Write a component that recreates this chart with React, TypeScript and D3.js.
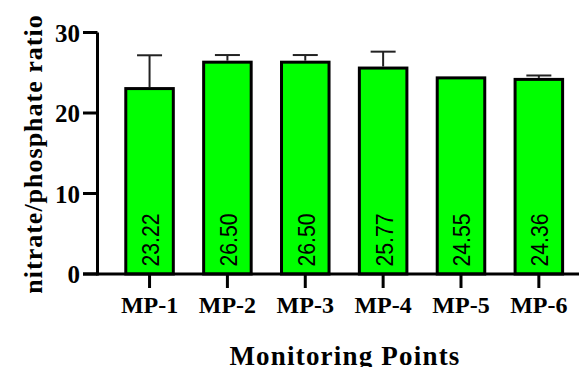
import React from "react";
import * as d3 from "d3";

const categories = ["MP-1", "MP-2", "MP-3", "MP-4", "MP-5", "MP-6"];
const means = [23.22, 26.5, 26.5, 25.77, 24.55, 24.36];
const errors = [3.95, 0.7, 0.7, 1.85, 0, 0.3];
const labels = ["23.22", "26.50", "26.50", "25.77", "24.55", "24.36"];
const yTicks = [0, 10, 20, 30];

const W = 579;
const H = 367;

export default function App() {
  const x = d3
    .scaleBand<string>()
    .domain(categories)
    .range([97.5, 590.9])
    .paddingInner(0.351)
    .paddingOuter(0.344);
  const y = d3.scaleLinear().domain([0, 30]).range([274, 32.5]);
  const bw = x.bandwidth();
  const serif = "'Liberation Serif', 'Times New Roman', serif";
  const sans = "'Liberation Sans', Arial, sans-serif";
  const axisX = 97.5;
  const y0 = y(0);

  return (
    <svg
      width={W}
      height={H}
      style={{ position: "absolute", left: 0, top: 0, background: "#fff" }}
    >
      {/* bars */}
      {categories.map((c, i) => {
        const bx = x(c)!;
        const top = y(means[i]);
        return (
          <rect
            key={c}
            x={bx + 1.5}
            y={top + 1.5}
            width={bw - 3}
            height={y0 - top - 1.5}
            fill="#00ff00"
            stroke="#000"
            strokeWidth={3}
          />
        );
      })}
      {/* error bars */}
      {categories.map((c, i) => {
        if (!errors[i]) return null;
        const cx = x(c)! + bw / 2;
        const top = y(means[i]);
        const et = y(means[i] + errors[i]);
        return (
          <g key={"e" + c} stroke="#222" strokeWidth={2}>
            <line x1={cx} x2={cx} y1={top} y2={et} />
            <line x1={cx - 12.5} x2={cx + 12.5} y1={et} y2={et} />
          </g>
        );
      })}
      {/* value labels */}
      {categories.map((c, i) => {
        const cx = x(c)! + bw / 2 + 9.5;
        const by = 266.5;
        return (
          <text
            key={"l" + c}
            transform={`translate(${cx},${by}) rotate(-90)`}
            fontFamily={sans}
            fontSize={23}
            textLength={53}
            lengthAdjust="spacingAndGlyphs"
            fill="#000"
          >
            {labels[i]}
          </text>
        );
      })}
      {/* y axis */}
      <line x1={axisX} x2={axisX} y1={y(30)} y2={y0 + 1.5} stroke="#000" strokeWidth={3} />
      {yTicks.map((t) => (
        <g key={"yt" + t}>
          <line x1={83} x2={axisX} y1={y(t)} y2={y(t)} stroke="#000" strokeWidth={3} />
          <text
            x={80}
            y={y(t) + 9}
            textAnchor="end"
            fontFamily={serif}
            fontWeight="bold"
            fontSize={25}
            fill="#000"
          >
            {t}
          </text>
        </g>
      ))}
      {/* x axis */}
      <line x1={83} x2={W} y1={y0} y2={y0} stroke="#000" strokeWidth={3} />
      {categories.map((c) => {
        const cx = x(c)! + bw / 2;
        return (
          <g key={"xt" + c}>
            <line x1={cx} x2={cx} y1={y0} y2={y0 + 14} stroke="#000" strokeWidth={3} />
            <text
              x={cx}
              y={313}
              textAnchor="middle"
              fontFamily={serif}
              fontWeight="bold"
              fontSize={24}
              fill="#000"
            >
              {c}
            </text>
          </g>
        );
      })}
      {/* titles */}
      <text
        x={345}
        y={364.5}
        textAnchor="middle"
        fontFamily={serif}
        fontWeight="bold"
        fontSize={27}
        letterSpacing={1.2}
        fill="#000"
      >
        Monitoring Points
      </text>
      <text
        transform={`translate(41.5,154) rotate(-90)`}
        textAnchor="middle"
        fontFamily={serif}
        fontWeight="bold"
        fontSize={26}
        letterSpacing={1}
        fill="#000"
      >
        nitrate/phosphate ratio
      </text>
    </svg>
  );
}
